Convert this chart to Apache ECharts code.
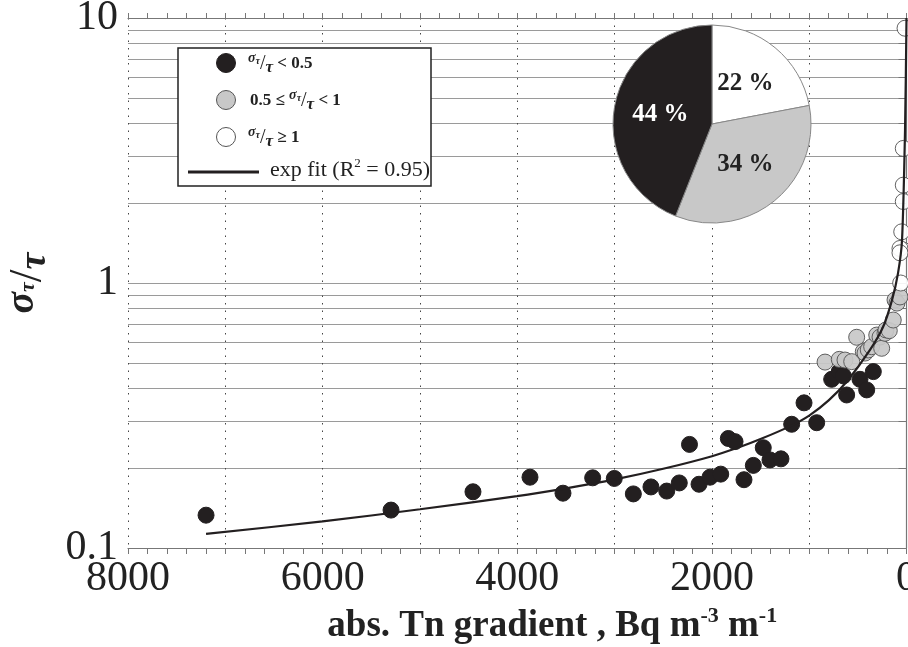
<!DOCTYPE html>
<html>
<head>
<meta charset="utf-8">
<script src="https://cdn.jsdelivr.net/npm/echarts@6/dist/echarts.min.js"></script>
<style>
html, body {margin:0; padding:0; background:#fff;}
#main {width:908px; height:647px;}
</style>
</head>
<body>
<div id="main"></div>
<script>
// sigma_tau/tau < 0.5
let lowX = [7198, 5297, 4455, 3869, 3530, 3225, 3003, 2807, 2626, 2464, 2335, 2230, 2132, 2019, 1909, 1831,
            1762, 1670, 1574, 1472, 1403, 1290, 1180, 1053, 923, 769, 691, 649, 615, 478, 409, 341];
let lowY = [0.133, 0.139, 0.163, 0.185, 0.161, 0.184, 0.183, 0.160, 0.170, 0.164, 0.176, 0.246, 0.174, 0.185, 0.190, 0.259,
            0.252, 0.181, 0.205, 0.239, 0.215, 0.217, 0.293, 0.353, 0.297, 0.433, 0.463, 0.446, 0.378, 0.433, 0.395, 0.463];
// 0.5 <= sigma_tau/tau < 1
let midX = [837, 691, 632, 563, 512, 444, 426, 393, 358, 306, 272, 255, 221, 211, 177, 136, 118, 98, 67];
let midY = [0.503, 0.515, 0.512, 0.505, 0.624, 0.551, 0.544, 0.559, 0.575, 0.636, 0.625, 0.567, 0.646, 0.665, 0.661, 0.725, 0.863, 0.840, 0.886];
// sigma_tau/tau >= 1
let highX = [15, 33, 33, 33, 49, 33, 67, 67, 60];
let highY = [9.15, 3.22, 2.34, 2.03, 1.56, 1.33, 1.35, 1.30, 1.00];
// exp fit
let fitX = [7198, 6000, 4999, 4003, 3500, 2996, 2500, 1999, 1700, 1500, 1200, 1000, 800, 611, 375, 241, 149, 87, 46, 15, 0];
let fitY = [0.113, 0.126, 0.140, 0.157, 0.168, 0.1815, 0.199, 0.222, 0.2415, 0.2576, 0.2877, 0.316, 0.3606, 0.426, 0.559, 0.682, 0.862, 1.09, 1.45, 3.78, 10];
// pie shares
let pieNames = ['high', 'mid', 'low'];
let pieValues = [22, 34, 44];
let pieColors = ['#ffffff', '#c8c8c8', '#231f20'];
// axis ticks
let yTicks = [0.1, 0.2, 0.3, 0.4, 0.5, 0.6, 0.7, 0.8, 0.9, 1, 2, 3, 4, 5, 6, 7, 8, 9, 10];
let yLabels = [0.1, 1, 10];
let xLabels = [0, 2000, 4000, 6000, 8000];

let serif = "'Liberation Serif', 'Times New Roman', serif";

function zip(xs, ys) {
    let out = [];
    for (let i = 0; i < xs.length; i++) out.push([xs[i], ys[i]]);
    return out;
}

let fracRich = {
    s: {fontFamily: serif, fontSize: 14, fontWeight: 'bold', fontStyle: 'italic', fill: '#222', padding: [0, 0, 11, 0]},
    ss: {fontFamily: serif, fontSize: 10, fontWeight: 'bold', fontStyle: 'italic', fill: '#222', padding: [0, 0, 5, 0]},
    sl: {fontFamily: serif, fontSize: 20, fill: '#222'},
    t: {fontFamily: serif, fontSize: 17, fontWeight: 'bold', fontStyle: 'italic', fill: '#222', padding: [7, 0, 0, 0]},
    n: {fontFamily: serif, fontSize: 17, fontWeight: 'bold', fill: '#222'}
};

let myChart = echarts.init(document.getElementById('main'));

let option = {
    animation: false,
    backgroundColor: '#fff',
    textStyle: {fontFamily: serif},
    grid: {left: 128, right: 1.5, top: 18, bottom: 99, containLabel: false, outerBoundsMode: 'none'},
    xAxis: [{
        type: 'value', min: 0, max: 8000, interval: 1000, inverse: true,
        name: 'abs. Tn gradient , Bq m{sup|-3} m{sup|-1}',
        nameLocation: 'middle', nameGap: 50,
        nameTextStyle: {
            fontFamily: serif, fontSize: 37, fontWeight: 'bold', color: '#222', padding: [0, 0, 0, 70],
            rich: {sup: {fontFamily: serif, fontSize: 22, fontWeight: 'bold', color: '#222', padding: [0, 0, 22, 0]}}
        },
        axisLine: {lineStyle: {color: '#777', width: 1.2}},
        axisTick: {length: 6, lineStyle: {color: '#777'}},
        minorTick: {show: true, splitNumber: 5, length: 6, lineStyle: {color: '#777'}},
        axisLabel: {
            customValues: xLabels, fontFamily: serif, fontSize: 42, color: '#222', margin: 10,
            formatter: function (v) { return String(v); }
        },
        splitLine: {show: true, lineStyle: {color: '#444', type: [1.5, 6], width: 1}}
    }, {
        type: 'value', min: 0, max: 8000, interval: 1000, inverse: true, position: 'top',
        axisLine: {show: true, lineStyle: {color: '#777', width: 1.2}},
        axisTick: {length: 5, lineStyle: {color: '#777'}},
        minorTick: {show: true, splitNumber: 5, length: 5, lineStyle: {color: '#777'}},
        axisLabel: {show: false},
        splitLine: {show: false}
    }],
    yAxis: {
        type: 'log', logBase: 10, min: 0.1, max: 10,
        name: '{a|σ}{b|τ}{c|/}{d|τ}',
        nameLocation: 'middle', nameRotate: 90, nameGap: 72,
        nameTextStyle: {
            rich: {
                a: {fontFamily: serif, fontSize: 40, fontWeight: 'bold', fontStyle: 'italic', color: '#222', padding: [0, 0, 12, 0]},
                b: {fontFamily: serif, fontSize: 22, fontWeight: 'bold', fontStyle: 'italic', color: '#222'},
                c: {fontFamily: serif, fontSize: 46, color: '#222'},
                d: {fontFamily: serif, fontSize: 38, fontWeight: 'bold', fontStyle: 'italic', color: '#222', padding: [14, 0, 0, 0]}
            }
        },
        axisLine: {show: true, lineStyle: {color: '#777', width: 1.2}},
        axisTick: {show: true, length: 8, customValues: yTicks, lineStyle: {color: '#777'}},
        axisLabel: {
            customValues: yLabels, fontFamily: serif, fontSize: 42, color: '#222', margin: 10,
            formatter: function (v) { return String(v); }
        },
        splitLine: {show: true, lineStyle: {color: '#9a9a9a', width: 1.2}}
    },
    series: [{
        type: 'scatter', name: 'low', data: zip(lowX, lowY), symbolSize: 16, z: 3,
        itemStyle: {color: '#231f20', borderColor: '#231f20', borderWidth: 1, opacity: 1}
    }, {
        type: 'scatter', name: 'mid', data: zip(midX, midY), symbolSize: 16, z: 3,
        itemStyle: {color: '#c8c8c8', borderColor: '#555', borderWidth: 1, opacity: 0.92}
    }, {
        type: 'scatter', name: 'high', data: zip(highX, highY), symbolSize: 16, z: 3,
        itemStyle: {color: '#ffffff', borderColor: '#555', borderWidth: 1, opacity: 0.92}
    }, {
        type: 'line', name: 'exp fit', data: zip(fitX, fitY), showSymbol: false, symbol: 'none',
        smooth: 0.25, z: 5,
        lineStyle: {color: '#231f20', width: 2.2}
    }, {
        type: 'pie', center: [712, 124], radius: 99, startAngle: 90, clockwise: true, z: 10, silent: true,
        data: pieNames.map(function (n, i) {
            return {
                name: n, value: pieValues[i], itemStyle: {color: pieColors[i]},
                label: {color: i == 2 ? '#fff' : '#222'}
            };
        }),
        itemStyle: {borderColor: '#888', borderWidth: 1},
        label: {position: 'inside', formatter: '{c} %', fontFamily: serif, fontSize: 25, fontWeight: 'bold'},
        labelLine: {show: false}
    }],
    graphic: [
        {type: 'rect', z: 100, shape: {x: 178, y: 48, width: 253, height: 138}, style: {fill: '#fff', stroke: '#222', lineWidth: 1.5}},
        {type: 'circle', z: 101, shape: {cx: 226, cy: 63, r: 9.5}, style: {fill: '#231f20', stroke: '#231f20'}},
        {type: 'circle', z: 101, shape: {cx: 226, cy: 100, r: 9.5}, style: {fill: '#c8c8c8', stroke: '#555', lineWidth: 1}},
        {type: 'circle', z: 101, shape: {cx: 226, cy: 137, r: 9.5}, style: {fill: '#fff', stroke: '#555', lineWidth: 1}},
        {type: 'line', z: 101, shape: {x1: 188, y1: 172, x2: 259, y2: 172}, style: {stroke: '#231f20', lineWidth: 3}},
        {type: 'text', z: 101, x: 248, y: 64, style: {text: '{s|σ}{ss|τ}{sl|/}{t|τ}{n| < 0.5}', rich: fracRich, verticalAlign: 'middle'}},
        {type: 'text', z: 101, x: 250, y: 101, style: {text: '{n|0.5 ≤ }{s|σ}{ss|τ}{sl|/}{t|τ}{n| < 1}', rich: fracRich, verticalAlign: 'middle'}},
        {type: 'text', z: 101, x: 248, y: 138, style: {text: '{s|σ}{ss|τ}{sl|/}{t|τ}{n| ≥ 1}', rich: fracRich, verticalAlign: 'middle'}},
        {type: 'text', z: 101, x: 270, y: 170, style: {
            text: 'exp fit (R{sup|2} = 0.95)', font: '22px ' + serif, fill: '#222', verticalAlign: 'middle',
            rich: {sup: {fontFamily: serif, fontSize: 13, fill: '#222', padding: [0, 0, 12, 0]}}
        }}
    ]
};

myChart.setOption(option);
</script>
</body>
</html>
